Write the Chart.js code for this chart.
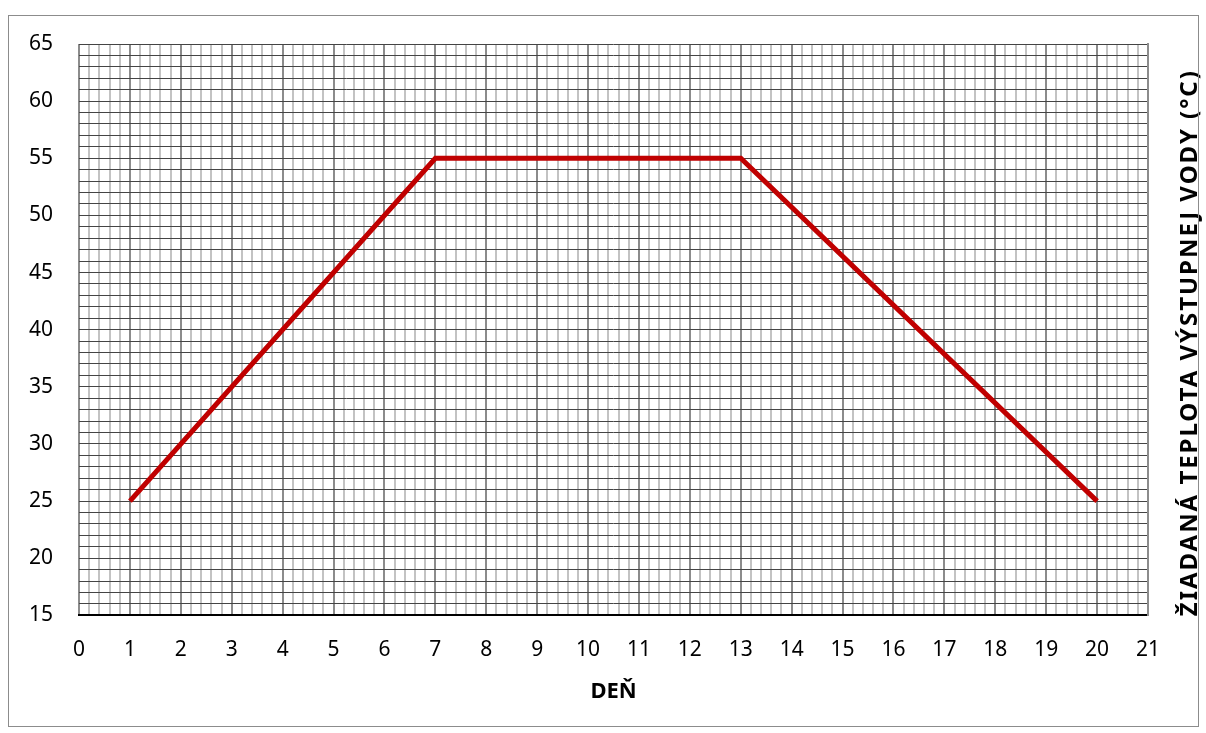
<!DOCTYPE html>
<html>
<head>
<meta charset="utf-8">
<script src="https://cdn.jsdelivr.net/npm/chart.js@4"></script>
<style>
  body { margin: 0; background: #fff; }
  #wrap { position: relative; width: 1206px; height: 733px; }
  #frame { position: absolute; left: 8px; top: 15px; width: 1191px; height: 712px; border: 1px solid #8c8c8c; box-sizing: border-box; pointer-events: none; }
  canvas { position: absolute; left: 0; top: 0; }
</style>
</head>
<body>
<div id="wrap">
  <canvas id="graphCanvas" width="1206" height="733"></canvas>
  <div id="frame"></div>
</div>
<script>
// data
var days  = [1, 7, 13, 20];
var temps = [25, 55, 55, 25];

var xTitle = 'DEŇ';
var yTitle = 'ŽIADANÁ TEPLOTA VÝSTUPNEJ VODY (°C)';

var points = [];
for (var i = 0; i < days.length; i++) {
    points.push({ x: days[i], y: temps[i] });
}

var fontFam = "'Noto Sans', 'Liberation Sans', sans-serif";

// right side title reads bottom-to-top, chart.js would rotate it the other way
var rightTitle = {
    id: 'rightTitle',
    afterDraw: function (chart) {
        var ctx = chart.ctx;
        var area = chart.chartArea;
        ctx.save();
        ctx.font = 'bold 24px ' + fontFam;
        ctx.fillStyle = '#000';
        var w = ctx.measureText(yTitle).width;
        var spacing = (545 - w) / (yTitle.length - 1);
        if (spacing > 0) ctx.letterSpacing = spacing + 'px';
        ctx.translate(area.right + 42, (area.top + area.bottom) / 2 + 13);
        ctx.rotate(-Math.PI / 2);
        ctx.textAlign = 'center';
        ctx.textBaseline = 'middle';
        ctx.fillText(yTitle, 0, 0);
        ctx.restore();
    }
};

var graph = new Chart(document.getElementById('graphCanvas'), {
    type: 'line',
    data: {
        datasets: [{
            data: points,
            borderColor: '#c00000',
            borderWidth: 5,
            pointRadius: 0,
            fill: false,
            tension: 0
        }]
    },
    options: {
        responsive: false,
        animation: false,
        events: [],
        layout: { padding: { left: 3, right: 10, top: 44, bottom: 28 } },
        plugins: { legend: { display: false }, tooltip: { enabled: false } },
        scales: {
            xMinor: {
                type: 'linear', position: 'top', min: 0, max: 21, z: -1,
                ticks: { display: false, stepSize: 0.2, maxTicksLimit: 500 },
                grid: { color: '#c3c3c3', lineWidth: 2, drawTicks: false },
                border: { display: false }
            },
            x: {
                type: 'linear', position: 'bottom', min: 0, max: 21,
                ticks: { stepSize: 1, color: '#000', padding: 22, font: { family: fontFam, size: 21 } },
                grid: { color: '#8c8c8c', lineWidth: 2, drawTicks: false },
                border: { color: '#000', width: 2 },
                title: { display: true, text: xTitle, color: '#000', padding: { top: -6, bottom: 0 }, font: { family: fontFam, size: 22, weight: 'bold' } }
            },
            y: {
                type: 'linear', position: 'left', min: 15, max: 65,
                ticks: {
                    stepSize: 1, autoSkip: false, color: '#000', padding: 26,
                    font: { family: fontFam, size: 21 },
                    callback: function (v) { return v % 5 === 0 ? v : ''; }
                },
                grid: { color: '#444', lineWidth: 1, drawTicks: false },
                border: { display: false }
            },
            yRight: {
                type: 'linear', position: 'right', min: 15, max: 65,
                ticks: { display: false },
                grid: { display: false, drawTicks: false },
                border: { color: '#8c8c8c', width: 2 },
                afterFit: function (scale) { scale.width = 48; }
            }
        }
    },
    plugins: [rightTitle]
});
</script>
</body>
</html>
